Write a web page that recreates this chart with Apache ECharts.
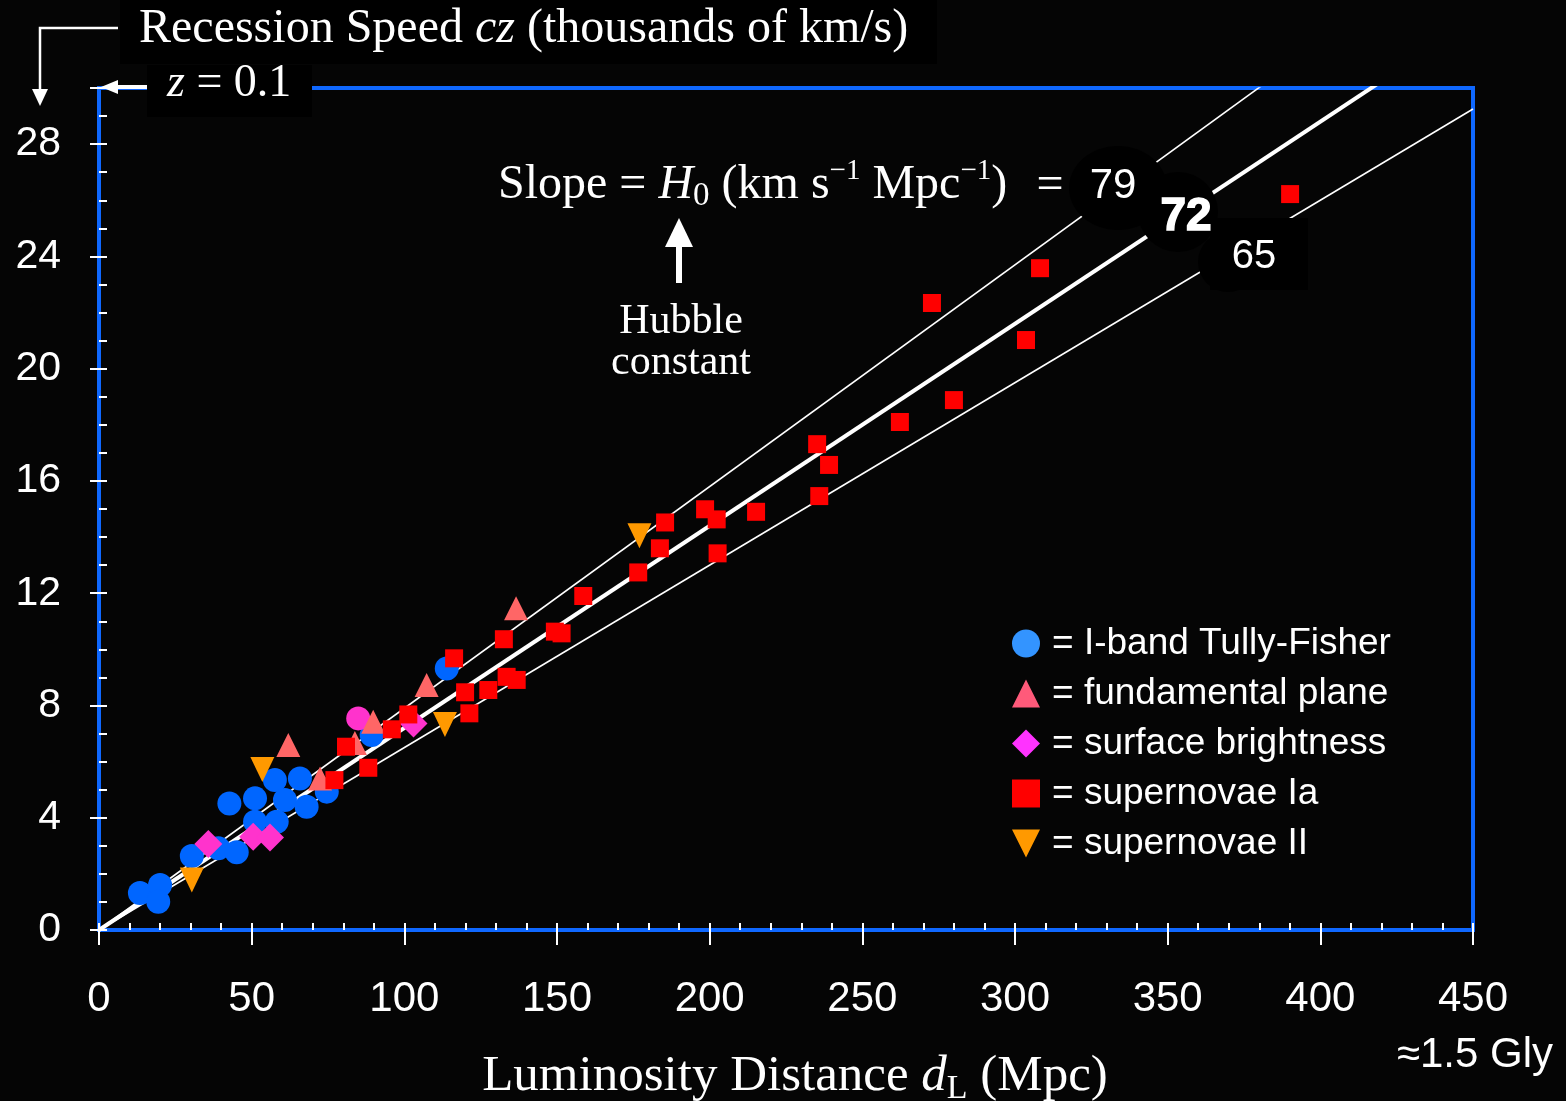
<!DOCTYPE html>
<html>
<head>
<meta charset="utf-8">
<script src="https://cdn.jsdelivr.net/npm/echarts@6/dist/echarts.min.js"></script>
<style>
  html, body { margin: 0; padding: 0; background: #050505; }
  #chart { width: 1566px; height: 1101px; }
</style>
</head>
<body>
<div id="chart"></div>
<script>
// ---- Data (distance in Mpc, recession speed cz in thousands of km/s) ----
const seriesNames = ['I-band Tully-Fisher', 'fundamental plane', 'surface brightness', 'supernovae Ia', 'supernovae II'];

const tullyFisher = [
  [13.4, 1.32], [20.0, 1.60], [19.4, 1.01], [30.4, 2.64], [39.1, 2.91], [45.1, 2.77],
  [42.7, 4.51], [51.1, 4.69], [57.6, 5.34], [65.8, 5.40], [60.9, 4.63], [68.0, 4.39],
  [58.2, 3.86], [51.1, 3.86], [74.6, 4.93], [89.3, 6.95], [113.9, 9.32]
];
const fundamentalPlane = [
  [62.0, 6.59], [72.4, 5.40], [83.8, 6.66], [89.8, 7.42], [107.3, 8.73], [136.6, 11.46]
];
const surfaceBrightness = [
  [35.8, 3.06], [50.5, 3.32], [56.0, 3.30], [103.0, 7.36]
];
const surfaceBrightnessRound = [[84.9, 7.54]];
const supernovaeIa = [
  [77.1, 5.34], [80.9, 6.53], [88.2, 5.78], [95.9, 7.15], [101.3, 7.68], [116.3, 9.68],
  [119.9, 8.47], [121.3, 7.72], [127.5, 8.55], [132.6, 10.36], [133.5, 9.02], [136.8, 8.91],
  [149.3, 10.63], [151.5, 10.57], [158.6, 11.90], [176.6, 12.74], [183.7, 13.60], [185.4, 14.52],
  [198.5, 14.99], [202.3, 14.63], [202.6, 13.42], [215.2, 14.90], [235.2, 17.31], [235.9, 15.46],
  [239.1, 16.57], [262.3, 18.10], [272.8, 22.34], [280.0, 18.88], [303.6, 21.02], [308.2, 23.58],
  [390.1, 26.22]
];
const supernovaeII = [
  [30.4, 1.78], [53.5, 5.72], [113.3, 7.32], [177.0, 14.05]
];
const hubbleValues = [79, 72, 65];   // km/s/Mpc
const xTicks = [0, 50, 100, 150, 200, 250, 300, 350, 400, 450];
const yTicks = [0, 4, 8, 12, 16, 20, 24, 28];
const xRange = [0, 450];
const yRange = [0, 30];

// ---- Styling ----
const BLUE = '#0f68ff';
const SERIF = '"Liberation Serif", "DejaVu Serif", serif';
const SANS = '"Liberation Sans", Arial, sans-serif';
const downTri = 'path://M0,0 L20,0 L10,20 Z';

const lineSeries = hubbleValues.map((h, i) => ({
  type: 'line',
  name: 'H' + h,
  data: [[xRange[0], xRange[0] * h / 1000], [xRange[1], xRange[1] * h / 1000]],
  symbol: 'none',
  clip: true,
  silent: true,
  z: 2,
  lineStyle: { color: '#ffffff', width: h === 72 ? 4 : 1.6 }
}));

const chart = echarts.init(document.getElementById('chart'), null, { renderer: 'canvas' });
chart.setOption({
  backgroundColor: '#050505',
  animation: false,
  grid: {
    left: 99, right: 93, top: 88, bottom: 171,
    show: true, borderColor: BLUE, borderWidth: 4, backgroundColor: 'transparent'
  },
  xAxis: [
    {
      type: 'value', min: xRange[0], max: xRange[1], interval: 50, position: 'bottom',
      axisLine: { show: true, onZero: false, lineStyle: { color: BLUE, width: 4 } },
      axisTick: { show: true, inside: false, length: 15, lineStyle: { color: '#ffffff', width: 2 } },
      axisLabel: {
        show: true, margin: 48, color: '#ffffff', fontFamily: SANS, fontSize: 42,
        formatter: v => (xTicks.indexOf(v) >= 0 ? String(v) : '')
      },
      splitLine: { show: false }
    },
    {
      type: 'value', min: xRange[0], max: xRange[1], interval: 10, position: 'bottom',
      axisLine: { show: false },
      axisTick: { show: true, inside: true, length: 7, lineStyle: { color: '#ffffff', width: 2 } },
      axisLabel: { show: false },
      splitLine: { show: false }
    }
  ],
  yAxis: [
    {
      type: 'value', min: yRange[0], max: yRange[1], interval: 4, position: 'left',
      axisLine: { show: true, onZero: false, lineStyle: { color: BLUE, width: 4 } },
      axisTick: { show: true, inside: false, length: 9, lineStyle: { color: '#ffffff', width: 2 } },
      axisLabel: {
        show: true, margin: 38, color: '#ffffff', fontFamily: SANS, fontSize: 41,
        formatter: v => (yTicks.indexOf(v) >= 0 ? String(v) : '')
      },
      splitLine: { show: false }
    },
    {
      type: 'value', min: yRange[0], max: yRange[1], interval: 1, position: 'left',
      axisLine: { show: false },
      axisTick: { show: true, inside: true, length: 8, lineStyle: { color: '#ffffff', width: 2 } },
      axisLabel: { show: false },
      splitLine: { show: false }
    }
  ],
  legend: {
    orient: 'vertical', left: 1012, top: 625, padding: 0,
    itemWidth: 28, itemHeight: 28, itemGap: 13,
    selectedMode: false,
    formatter: name => '= ' + name,
    textStyle: { color: '#ffffff', fontFamily: SANS, fontSize: 37, lineHeight: 35, padding: [0, 0, 0, 7] },
    data: [
      { name: seriesNames[0], icon: 'circle', itemStyle: { color: '#3394ff' } },
      { name: seriesNames[1], icon: 'triangle', itemStyle: { color: '#ff5a7a' } },
      { name: seriesNames[2], icon: 'diamond', itemStyle: { color: '#ff33ff' } },
      { name: seriesNames[3], icon: 'rect', itemStyle: { color: '#ff0000' } },
      { name: seriesNames[4], icon: downTri, itemStyle: { color: '#ff9900' } }
    ]
  },
  series: lineSeries.concat([
    {
      type: 'scatter', name: seriesNames[0], data: tullyFisher, symbol: 'circle', symbolSize: 24, z: 10,
      itemStyle: { color: '#0066ff', opacity: 1 }
    },
    {
      type: 'scatter', name: seriesNames[2], data: surfaceBrightness, symbol: 'diamond', symbolSize: 28, z: 11,
      itemStyle: { color: '#ff33cc', opacity: 1 }
    },
    {
      type: 'scatter', name: seriesNames[2] + ' ', data: surfaceBrightnessRound, symbol: 'circle', symbolSize: 24, z: 11,
      itemStyle: { color: '#ff33cc', opacity: 1 }
    },
    {
      type: 'scatter', name: seriesNames[1], data: fundamentalPlane, symbol: 'triangle', symbolSize: [24, 24], z: 11,
      itemStyle: { color: '#ff6666', opacity: 1 }
    },
    {
      type: 'scatter', name: seriesNames[4], data: supernovaeII, symbol: downTri, symbolSize: [24, 25], z: 12,
      itemStyle: { color: '#ff9900', opacity: 1 }
    },
    {
      type: 'scatter', name: seriesNames[3], data: supernovaeIa, symbol: 'rect', symbolSize: 18, z: 13,
      itemStyle: { color: '#ff0000', opacity: 1 }
    }
  ]),
  graphic: [
    // title box and text
    { type: 'rect', z: 100, shape: { x: 120, y: 0, width: 817, height: 64 }, style: { fill: '#000000' } },
    {
      type: 'text', z: 101, left: 139, top: 5,
      style: {
        text: '{t|Recession Speed }{i|cz}{t| (thousands of km/s)}',
        rich: {
          t: { fontFamily: SERIF, fontSize: 48, fill: '#ffffff' },
          i: { fontFamily: SERIF, fontSize: 48, fontStyle: 'italic', fill: '#ffffff' }
        }
      }
    },
    // bent arrow at top-left
    { type: 'polyline', z: 101, shape: { points: [[118, 28], [40, 28], [40, 92]] }, style: { stroke: '#ffffff', lineWidth: 2.5, fill: null } },
    { type: 'polygon', z: 101, shape: { points: [[32, 89], [48, 89], [40, 106]] }, style: { fill: '#ffffff' } },
    // z = 0.1 box
    { type: 'rect', z: 100, shape: { x: 147, y: 65, width: 165, height: 52 }, style: { fill: '#000000' } },
    {
      type: 'text', z: 101, left: 167, top: 61,
      style: {
        text: '{i|z}{t| = 0.1}',
        rich: {
          t: { fontFamily: SERIF, fontSize: 46, fill: '#ffffff' },
          i: { fontFamily: SERIF, fontSize: 46, fontStyle: 'italic', fill: '#ffffff' }
        }
      }
    },
    { type: 'line', z: 101, shape: { x1: 147, y1: 87, x2: 112, y2: 87 }, style: { stroke: '#ffffff', lineWidth: 4 } },
    { type: 'polygon', z: 101, shape: { points: [[101, 87], [118, 80], [118, 94]] }, style: { fill: '#ffffff' } },
    // slope annotation
    {
      type: 'text', z: 101, left: 498, top: 157,
      style: {
        text: '{t|Slope = }{i|H}{s|0}{t| (km s}{p|−1}{t| Mpc}{p|−1}{t|)}',
        rich: {
          t: { fontFamily: SERIF, fontSize: 48, fill: '#ffffff', lineHeight: 56, verticalAlign: 'middle' },
          i: { fontFamily: SERIF, fontSize: 48, fontStyle: 'italic', fill: '#ffffff', lineHeight: 56, verticalAlign: 'middle' },
          s: { fontFamily: SERIF, fontSize: 33, fill: '#ffffff', verticalAlign: 'bottom', lineHeight: 56 },
          p: { fontFamily: SERIF, fontSize: 29, fill: '#ffffff', verticalAlign: 'top', lineHeight: 42 }
        }
      }
    },
    { type: 'text', z: 101, x: 1050, y: 186, style: { text: '=', fontFamily: SERIF, fontSize: 48, fill: '#ffffff', align: 'center', verticalAlign: 'middle' } },
    // black blobs behind H0 values
    { type: 'ellipse', z: 6, shape: { cx: 1118, cy: 188, rx: 49, ry: 42 }, style: { fill: '#000000' } },
    { type: 'circle', z: 6, shape: { cx: 1178, cy: 212, r: 40 }, style: { fill: '#000000' } },
    { type: 'rect', z: 6, shape: { x: 1210, y: 218, width: 98, height: 72 }, style: { fill: '#000000' } },
    { type: 'circle', z: 6, shape: { cx: 1228, cy: 262, r: 30 }, style: { fill: '#000000' } },
    { type: 'text', z: 101, x: 1113, y: 186, style: { text: '79', fontFamily: SANS, fontSize: 42, fill: '#ffffff', align: 'center', verticalAlign: 'middle' } },
    { type: 'text', z: 101, x: 1186, y: 217, style: { text: '72', fontFamily: SANS, fontSize: 46, fontWeight: 'bold', fill: '#ffffff', align: 'center', verticalAlign: 'middle', stroke: '#ffffff', lineWidth: 1.5 } },
    { type: 'text', z: 101, x: 1254, y: 257, style: { text: '65', fontFamily: SANS, fontSize: 40, fill: '#ffffff', align: 'center', verticalAlign: 'middle' } },
    // Hubble constant arrow and text
    { type: 'line', z: 101, shape: { x1: 679, y1: 283, x2: 679, y2: 240 }, style: { stroke: '#ffffff', lineWidth: 6 } },
    { type: 'polygon', z: 101, shape: { points: [[679, 218], [665, 247], [693, 247]] }, style: { fill: '#ffffff' } },
    { type: 'text', z: 101, x: 681, y: 322, style: { text: 'Hubble', fontFamily: SERIF, fontSize: 42, fill: '#ffffff', align: 'center', verticalAlign: 'middle' } },
    { type: 'text', z: 101, x: 681, y: 363, style: { text: 'constant', fontFamily: SERIF, fontSize: 42, fill: '#ffffff', align: 'center', verticalAlign: 'middle' } },
    // axis title
    {
      type: 'text', z: 101, x: 795, y: 1077,
      style: {
        text: '{t|Luminosity Distance }{i|d}{s|L}{t| (Mpc)}',
        align: 'center', verticalAlign: 'middle',
        rich: {
          t: { fontFamily: SERIF, fontSize: 51, fill: '#ffffff', lineHeight: 58, verticalAlign: 'middle' },
          i: { fontFamily: SERIF, fontSize: 51, fontStyle: 'italic', fill: '#ffffff', lineHeight: 58, verticalAlign: 'middle' },
          s: { fontFamily: SERIF, fontSize: 34, fill: '#ffffff', lineHeight: 58, verticalAlign: 'bottom' }
        }
      }
    },
    { type: 'text', z: 101, x: 1475, y: 1055, style: { text: '≈1.5 Gly', fontFamily: SANS, fontSize: 42, fill: '#ffffff', align: 'center', verticalAlign: 'middle' } }
  ]
});
</script>
</body>
</html>
